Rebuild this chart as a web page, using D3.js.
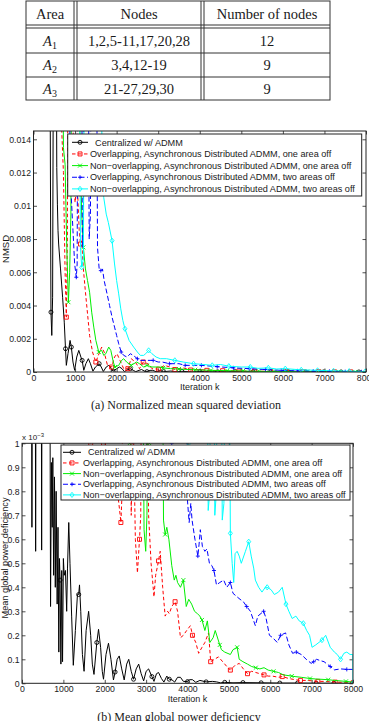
<!DOCTYPE html>
<html>
<head>
<meta charset="utf-8">
<script src="https://cdn.jsdelivr.net/npm/d3@7/dist/d3.min.js"></script>
<style>
  body { margin: 0; background: #fff; }
  svg { display: block; }
  .tbl text { font-family: "Liberation Serif", "Times New Roman", serif; font-size: 14.5px; fill: #1a1a1a; }
  .cap { font-family: "Liberation Serif", "Times New Roman", serif; font-size: 12px; fill: #1a1a1a; }
  .ax text, .lab, .leg text { font-family: "Liberation Sans", Arial, sans-serif; fill: #1a1a1a; }
</style>
</head>
<body>
<svg id="fig" width="369" height="721"></svg>
<script>
// table contents
const tableHead = ["Area", "Nodes", "Number of nodes"];
const tableArea = ["1", "2", "3"]; // subscript of A
const tableNodes = ["1,2,5-11,17,20,28", "3,4,12-19", "21-27,29,30"];
const tableCount = ["12", "9", "9"];

// axes
const iterTicks = [0, 1000, 2000, 3000, 4000, 5000, 6000, 7000, 8000];
const nmsdTicks = [0, 0.002, 0.004, 0.006, 0.008, 0.01, 0.012, 0.014];
const pgdTicks = [0, 0.1, 0.2, 0.3, 0.4, 0.5, 0.6, 0.7, 0.8, 0.9, 1]; // x 10^-3

const legendLabels = [
  "  Centralized w/ ADMM",
  "Overlapping, Asynchronous Distributed ADMM, one area off",
  "Non\u2212overlapping, Asynchronous Distributed ADMM, one area off",
  "Overlapping, Asynchronous Distributed ADMM, two areas off",
  "Non\u2212overlapping, Asynchronous Distributed ADMM, two areas off"
];

// (a) NMSD, [iteration, value]
const nmsdCentral = [[0,0.03],[380,0.03],[420,0.0036],[440,0.0022],[460,0.0045],[490,0.03],[535,0.03],[560,0.0123],[575,0.0101],[590,0.0085],[605,0.0077],[650,0.0062],[700,0.0045],[740,0.003],[770,0.0014],[790,0.0004],[830,0.0011],[880,0.0019],[910,0.0015],[950,0.0006],[990,0.0001],[1040,0.0009],[1090,0.0013],[1140,0.0009],[1170,0.0007],[1210,0.0001],[1260,0.0005],[1320,0.0008],[1370,0.0005],[1430,0.00005],[1490,0.0003],[1580,0.0005],[1630,0.0003],[1680,0.00003],[1750,0.0003],[1810,0.0004],[1870,0.0002],[1915,0.00005],[2000,0.0002],[2070,0.0003],[2130,0.0002],[2190,0.00002],[2260,0.00015],[2330,0.0002],[2400,0.0001],[2460,0.00002],[2540,0.0001],[2600,0.00015],[2670,0.00005],[2730,0.00002],[2800,0.0001],[2870,0.0001],[2950,0.00002],[3050,0.00008],[3130,0.00002],[3300,0.00006],[3450,0.00001],[3570,0.00004],[3800,0.00001],[4000,0.00003],[4430,0.00001],[4850,0.00002],[5280,0.00001],[5700,0.000008],[6130,0.000005],[6550,0.000004],[6980,0.000003],[7400,0.000002],[7830,0.000001],[8000,0]];
const nmsdOvOne = [[0,0.03],[630,0.03],[680,0.0145],[720,0.012],[760,0.006],[790,0.0033],[815,0.008],[840,0.03],[910,0.03],[960,0.0125],[1000,0.0102],[1050,0.0115],[1100,0.0085],[1130,0.0077],[1160,0.0079],[1200,0.0062],[1250,0.0048],[1300,0.0035],[1350,0.0022],[1420,0.0012],[1500,0.0006],[1560,0.001],[1640,0.0015],[1700,0.0012],[1780,0.0004],[1880,0.0003],[1950,0.0009],[2010,0.0011],[2080,0.0007],[2170,0.0002],[2270,0.0002],[2350,0.0008],[2450,0.0006],[2550,0.0002],[2640,0.0006],[2750,0.0005],[2850,0.0002],[3010,0.00017],[3150,0.0004],[3280,0.0003],[3400,0.00015],[3600,0.00025],[3780,0.00012],[4000,0.00015],[4170,0.0001],[4550,0.00008],[4940,0.00006],[5320,0.00005],[5700,0.00004],[6090,0.00003],[6470,0.00002],[6860,0.00002],[7240,0.00001],[7630,0.00001],[8000,0]];
const nmsdNonOne = [[0,0.03],[680,0.03],[720,0.0135],[760,0.0125],[800,0.0075],[840,0.0042],[870,0.006],[900,0.0095],[930,0.03],[1060,0.03],[1120,0.0135],[1160,0.0095],[1200,0.0075],[1250,0.0062],[1300,0.0055],[1350,0.0048],[1400,0.0036],[1450,0.0027],[1500,0.0019],[1570,0.0012],[1640,0.0013],[1690,0.001],[1740,0.0011],[1810,0.0015],[1860,0.0013],[1920,0.0006],[1960,0.0003],[2050,0.0004],[2120,0.0007],[2170,0.0008],[2240,0.0006],[2350,0.0004],[2480,0.0006],[2550,0.0005],[2650,0.0003],[2730,0.0004],[2850,0.0003],[3000,0.0003],[3120,0.00025],[3300,0.0002],[3500,0.00018],[3890,0.00013],[4270,0.0001],[4660,0.00008],[5040,0.00006],[5430,0.00004],[5810,0.00003],[6200,0.00003],[6580,0.00002],[6970,0.00001],[7350,0.00001],[7740,0.000005],[8000,0]];
const nmsdOvTwo = [[0,0.03],[840,0.03],[880,0.0125],[910,0.0105],[950,0.0085],[990,0.0065],[1030,0.0057],[1050,0.0065],[1080,0.03],[1150,0.03],[1175,0.0075],[1200,0.0085],[1230,0.03],[1300,0.03],[1340,0.008],[1370,0.0095],[1400,0.03],[1500,0.03],[1540,0.0075],[1580,0.0062],[1620,0.0061],[1660,0.0062],[1700,0.0055],[1770,0.0047],[1830,0.004],[1890,0.0033],[1950,0.0027],[2000,0.0022],[2050,0.0017],[2110,0.0012],[2170,0.001],[2250,0.0009],[2330,0.0011],[2400,0.001],[2500,0.0008],[2570,0.0007],[2700,0.0007],[2880,0.0007],[3000,0.0006],[3100,0.0006],[3270,0.0005],[3500,0.0005],[3650,0.0004],[4040,0.0004],[4420,0.00032],[4810,0.00025],[5190,0.0002],[5580,0.00015],[5960,0.0001],[6350,0.00007],[6730,0.00005],[7120,0.00004],[7500,0.00002],[7890,0.00001],[8000,0.00001]];
const nmsdNonTwo = [[0,0.03],[1090,0.03],[1130,0.0075],[1160,0.0063],[1200,0.0068],[1240,0.03],[1600,0.03],[1650,0.0125],[1690,0.0105],[1750,0.0095],[1800,0.009],[1890,0.0079],[1950,0.0065],[2000,0.0055],[2050,0.0047],[2100,0.0038],[2150,0.0031],[2200,0.0026],[2300,0.0019],[2410,0.0015],[2500,0.0012],[2570,0.001],[2650,0.001],[2700,0.0011],[2770,0.0013],[2850,0.0011],[2950,0.0009],[3050,0.0008],[3200,0.0008],[3400,0.0007],[3600,0.0006],[3850,0.0005],[4100,0.00045],[4300,0.0004],[4500,0.00045],[4700,0.00035],[5000,0.0003],[5216,0.0003],[5400,0.00022],[5649,0.00025],[5850,0.00018],[6058,0.0002],[6442,0.00013],[6834,0.0001],[7219,0.00007],[7596,0.00005],[7981,0.00003],[8000,0.00003]];

const nmsdCentralMarks = [420, 770, 910, 1170, 1580, 1915, 2330, 2730, 3130, 3570, 4000, 4430, 4850, 5280, 5700, 6130, 6550, 6980, 7400, 7830];
const nmsdOvOneMarks = [790, 1130, 1500, 1880, 2270, 2640, 3010, 3400, 3780, 4170, 4550, 4940, 5320, 5700, 6090, 6470, 6860, 7240, 7630];
const nmsdNonOneMarks = [840, 1200, 1570, 1960, 2350, 2730, 3120, 3500, 3890, 4270, 4660, 5040, 5430, 5810, 6200, 6580, 6970, 7350, 7740];
const nmsdOvTwoMarks = [1030, 1620, 2110, 2500, 2880, 3270, 3650, 4040, 4420, 4810, 5190, 5580, 5960, 6350, 6730, 7120, 7500, 7890];
const nmsdNonTwoMarks = [1160, 1890, 2200, 2770, 3400, 3850, 4300, 4700, 5216, 5649, 6058, 6442, 6834, 7219, 7596, 7981];

// (b) mean global power deficiency (x 10^-3), [iteration, value]
const pgdCentral = [[0,2],[225,2],[240,0.65],[255,2],[315,2],[330,0.55],[345,2],[460,2],[475,0.555],[490,2],[665,2],[690,0.32],[710,0.92],[730,0.65],[745,0.94],[765,0.45],[785,0.86],[805,0.4],[825,0.8],[850,0.33],[870,0.65],[890,0.13],[905,0.52],[920,0.43],[940,0.08],[960,0.47],[980,0.09],[1000,0.52],[1020,0.45],[1050,0.47],[1080,0.3],[1100,0.48],[1130,0.67],[1160,0.5],[1200,0.28],[1240,0.075],[1290,0.22],[1340,0.37],[1370,0.37],[1390,0.41],[1420,0.3],[1460,0.12],[1500,0.05],[1550,0.22],[1610,0.3],[1660,0.2],[1700,0.08],[1740,0.037],[1808,0.17],[1850,0.225],[1900,0.15],[1940,0.05],[1970,0.017],[2030,0.12],[2090,0.167],[2150,0.1],[2210,0.014],[2250,0.047],[2300,0.1],[2350,0.114],[2410,0.06],[2470,0.014],[2530,0.08],[2580,0.1],[2640,0.05],[2696,0.017],[2760,0.06],[2820,0.08],[2880,0.04],[2940,0.01],[3000,0.05],[3060,0.06],[3140,0.028],[3190,0.008],[3250,0.04],[3300,0.045],[3370,0.02],[3430,0.005],[3500,0.03],[3560,0.017],[3620,0.015],[3690,0.005],[3760,0.025],[3830,0.025],[3900,0.008],[4000,0.007],[4050,0.015],[4120,0.015],[4200,0.004],[4300,0.012],[4450,0.006],[4600,0.008],[4700,0.006],[4800,0.002],[4900,0.004],[5100,0.002],[5340,0.003],[5780,0.002],[6230,0.001],[6660,0.001],[7110,0.0005],[7540,0.0003],[8000,0]];
const pgdOvOne = [[0,2],[1600,2],[1660,1.0],[1700,2],[1950,2],[1970,1.0],[2000,2],[2280,2],[2320,0.78],[2360,0.72],[2390,0.67],[2420,0.8],[2450,2],[2600,2],[2640,0.7],[2680,1.2],[2740,0.6],[2790,0.46],[2840,0.6],[2870,0.7],[2900,2],[3000,2],[3060,0.7],[3120,0.5],[3190,0.36],[3230,0.45],[3300,0.51],[3340,0.55],[3400,0.4],[3460,0.28],[3520,0.3],[3560,0.29],[3620,0.32],[3700,0.34],[3760,0.3],[3830,0.19],[3900,0.2],[3980,0.22],[4070,0.24],[4120,0.2],[4200,0.17],[4270,0.125],[4350,0.15],[4420,0.17],[4510,0.21],[4560,0.09],[4650,0.1],[4750,0.11],[4850,0.09],[4950,0.07],[5036,0.055],[5150,0.075],[5250,0.083],[5350,0.06],[5450,0.04],[5550,0.05],[5650,0.045],[5750,0.04],[5850,0.035],[5950,0.03],[6050,0.03],[6200,0.025],[6290,0.028],[6450,0.02],[6600,0.015],[6730,0.012],[6900,0.012],[7150,0.008],[7300,0.008],[7570,0.005],[7800,0.004],[8000,0.002]];
const pgdNonOne = [[0,2],[2550,2],[2600,1.0],[2650,2],[2900,2],[2950,0.64],[2990,0.55],[3020,0.7],[3060,2],[3080,1.0],[3120,2],[3380,2],[3420,0.68],[3460,0.62],[3500,0.65],[3550,0.6],[3620,0.49],[3680,0.43],[3720,0.45],[3760,0.42],[3830,0.4],[3900,0.43],[3970,0.32],[4030,0.35],[4100,0.33],[4170,0.3],[4240,0.29],[4300,0.28],[4350,0.264],[4420,0.22],[4480,0.26],[4540,0.17],[4620,0.19],[4670,0.22],[4780,0.16],[4820,0.14],[4900,0.13],[5036,0.12],[5100,0.14],[5200,0.15],[5250,0.1],[5340,0.09],[5450,0.08],[5550,0.07],[5650,0.065],[5750,0.06],[5850,0.065],[5950,0.055],[6080,0.05],[6200,0.045],[6320,0.035],[6520,0.03],[6600,0.028],[6750,0.025],[6960,0.02],[7100,0.018],[7400,0.015],[7550,0.012],[7830,0.008],[8000,0.005]];
const pgdOvTwo = [[0,2],[3600,2],[3620,1.0],[3640,2],[3940,2],[4000,0.76],[4040,0.67],[4080,0.75],[4110,0.68],[4180,0.6],[4250,0.53],[4280,0.58],[4310,0.64],[4360,0.57],[4420,0.55],[4470,0.56],[4530,0.5],[4590,0.49],[4640,0.47],[4700,0.41],[4780,0.42],[4875,0.43],[4950,0.4],[5036,0.42],[5100,0.375],[5200,0.36],[5270,0.35],[5350,0.34],[5430,0.32],[5520,0.3],[5640,0.24],[5700,0.28],[5840,0.3],[5900,0.27],[5980,0.2],[6060,0.19],[6170,0.17],[6250,0.2],[6370,0.21],[6450,0.16],[6540,0.125],[6630,0.13],[6750,0.12],[6870,0.1],[6990,0.083],[7050,0.09],[7120,0.1],[7200,0.095],[7300,0.09],[7450,0.07],[7550,0.056],[7700,0.06],[7850,0.058],[8000,0.058]];
const pgdNonTwo = [[0,2],[4000,2],[4030,1.0],[4060,2],[4450,2],[4500,0.72],[4540,0.8],[4570,2],[4620,2],[4660,0.7],[4700,0.8],[4730,2],[4800,2],[4840,0.68],[4880,0.75],[4930,2],[4990,2],[5036,0.625],[5080,0.5],[5117,0.42],[5150,0.54],[5200,0.55],[5250,0.53],[5300,0.5],[5400,0.55],[5480,0.59],[5540,0.53],[5600,0.48],[5640,0.43],[5720,0.4],[5800,0.38],[5880,0.4],[5925,0.4],[6020,0.39],[6100,0.37],[6200,0.38],[6290,0.4],[6380,0.33],[6450,0.3],[6530,0.27],[6620,0.28],[6700,0.26],[6800,0.25],[6880,0.22],[6950,0.2],[7010,0.15],[7100,0.16],[7250,0.18],[7340,0.2],[7450,0.15],[7550,0.13],[7620,0.12],[7700,0.1],[7780,0.125],[7850,0.13],[7930,0.12],[7995,0.12],[8000,0]];

const pgdCentralMarks = [920, 1370, 1808, 2250, 2696, 3140, 3560, 4000, 4450, 4900, 5340, 5780, 6230, 6660, 7110, 7540, 8000];
const pgdOvOneMarks = [1660, 1970, 2390, 2840, 3300, 3700, 4120, 4560, 5036, 5450, 5850, 6290, 6730, 7150, 7570, 8000];
const pgdNonOneMarks = [2600, 3080, 3460, 3900, 4350, 4780, 5200, 5650, 6080, 6520, 6960, 7400, 7830];
const pgdOvTwoMarks = [3620, 4250, 4640, 5036, 5430, 5840, 6250, 6630, 7050, 7450, 7850];
const pgdNonTwoMarks = [4030, 5036, 5480, 5925, 6380, 6800, 7250, 7700, 8000];

const styles = [
  { color: "#000000", dash: null, mark: "circle" },
  { color: "#ff0000", dash: "3.5,2.5", mark: "square" },
  { color: "#00ee00", dash: null, mark: "x" },
  { color: "#0000ff", dash: "5,2.5", mark: "plus" },
  { color: "#00ffff", dash: null, mark: "diamond" }
];

const svg = d3.select("#fig");

// ---------- table ----------
const tbl = svg.append("g").attr("class", "tbl");
const tL = 26, tR = 330, tT = 1, tB = 100;
const vLines = [74, 77, 201, 204];
const hLines = [25, 28, 53, 77];
tbl.append("rect").attr("x", tL).attr("y", tT).attr("width", tR - tL).attr("height", tB - tT)
  .attr("fill", "none").attr("stroke", "#333").attr("stroke-width", 1);
tbl.selectAll(".v").data(vLines).join("line")
  .attr("x1", d => d).attr("x2", d => d).attr("y1", tT).attr("y2", tB)
  .attr("stroke", "#333").attr("stroke-width", 1);
tbl.selectAll(".h").data(hLines).join("line")
  .attr("x1", tL).attr("x2", tR).attr("y1", d => d).attr("y2", d => d)
  .attr("stroke", "#333").attr("stroke-width", 1);
const colC = [50, 139, 267];
const rowBase = [46, 70, 93.5];
tbl.selectAll(".hd").data(tableHead).join("text")
  .attr("x", (d, i) => colC[i]).attr("y", 18.5).attr("text-anchor", "middle").text(d => d);
tableArea.forEach((s, i) => {
  const t = tbl.append("text").attr("x", colC[0]).attr("y", rowBase[i]).attr("text-anchor", "middle");
  t.append("tspan").attr("font-style", "italic").text("A");
  t.append("tspan").attr("font-size", "10px").attr("dy", 3).text(s);
});
tbl.selectAll(".nd").data(tableNodes).join("text")
  .attr("x", colC[1]).attr("y", (d, i) => rowBase[i]).attr("text-anchor", "middle").text(d => d);
tbl.selectAll(".ct").data(tableCount).join("text")
  .attr("x", colC[2]).attr("y", (d, i) => rowBase[i]).attr("text-anchor", "middle").text(d => d);

// ---------- charts ----------
function markPath(type, s) {
  if (type === "x") return `M${-s},${-s}L${s},${s}M${-s},${s}L${s},${-s}`;
  if (type === "plus") return `M${-s},0H${s}M0,${-s}V${s}`;
  if (type === "square") return `M${-s},${-s}H${s}V${s}H${-s}Z`;
  if (type === "diamond") return `M0,${-s * 1.3}L${s},0L0,${s * 1.3}L${-s},0Z`;
  return d3.symbol(d3.symbolCircle, Math.PI * s * s)();
}

function drawChart(o) {
  const x = d3.scaleLinear().domain([0, 8000]).range([o.left, o.right]);
  const y = d3.scaleLinear().domain([0, o.yMax]).range([o.bottom, o.top]);
  const g = svg.append("g");

  g.append("clipPath").attr("id", o.id).append("rect")
    .attr("x", o.left).attr("y", o.top).attr("width", o.right - o.left).attr("height", o.bottom - o.top);

  const fmtY = d3.format("~g");
  const axes = [
    [d3.axisBottom(x).tickValues(iterTicks).tickFormat(d3.format("d")), `translate(0,${o.bottom})`],
    [d3.axisTop(x).tickValues(iterTicks).tickFormat(""), `translate(0,${o.top})`],
    [d3.axisLeft(y).tickValues(o.yTicks).tickFormat(fmtY), `translate(${o.left},0)`],
    [d3.axisRight(y).tickValues(o.yTicks).tickFormat(""), `translate(${o.right},0)`]
  ];
  axes.forEach(([ax, tr], i) => {
    const a = g.append("g").attr("class", "ax").attr("transform", tr)
      .call(ax.tickSizeInner(-3.5).tickSizeOuter(0).tickPadding(i === 0 ? 3 : 2.5));
    a.select(".domain").remove();
    a.selectAll("line").attr("stroke", "#222").attr("stroke-width", 0.8);
    a.selectAll("text").attr("font-size", 8.7);
  });

  const line = d3.line().x(d => x(d[0])).y(d => y(d[1]));
  const plot = g.append("g").attr("clip-path", `url(#${o.id})`);
  o.series.forEach((s, i) => {
    const st = styles[i];
    plot.append("path").datum(s.data).attr("d", line)
      .attr("fill", "none").attr("stroke", st.color).attr("stroke-width", 1)
      .attr("stroke-dasharray", st.dash);
    const pts = s.marks.map(m => d3.least(s.data, d => Math.abs(d[0] - m)));
    plot.selectAll(null).data(pts).join("path")
      .attr("transform", d => `translate(${x(d[0])},${y(d[1])})`)
      .attr("d", markPath(st.mark, 2))
      .attr("fill", "none").attr("stroke", st.color).attr("stroke-width", 0.9);
  });

  g.append("rect").attr("x", o.left).attr("y", o.top)
    .attr("width", o.right - o.left).attr("height", o.bottom - o.top)
    .attr("fill", "none").attr("stroke", "#222").attr("stroke-width", 1);

  // axis labels
  g.append("text").attr("class", "lab").attr("font-size", 9).attr("text-anchor", "middle")
    .attr("x", (o.left + o.right) / 2).attr("y", o.bottom + 18.3).text("Iteration k");
  g.append("text").attr("class", "lab").attr("font-size", o.yLabelSize).attr("text-anchor", "middle")
    .attr("transform", `translate(${o.yLabelX},${o.yLabelY}) rotate(-90)`).text(o.yLabel);
  g.append("text").attr("class", "cap").attr("text-anchor", "middle")
    .attr("x", o.capX).attr("y", o.capY).text(o.caption);

  // legend
  const L = o.legend;
  const lg = g.append("g").attr("class", "leg");
  lg.append("rect").attr("x", L.x).attr("y", L.y).attr("width", L.w).attr("height", L.h)
    .attr("fill", "#fff").attr("stroke", "#222").attr("stroke-width", 1);
  legendLabels.forEach((lab, i) => {
    const st = styles[i];
    const cy = L.y + L.first + i * L.step;
    lg.append("line").attr("x1", L.x + L.s1).attr("x2", L.x + L.s2).attr("y1", cy).attr("y2", cy)
      .attr("stroke", st.color).attr("stroke-width", 1).attr("stroke-dasharray", st.dash);
    lg.append("path").attr("transform", `translate(${L.x + (L.s1 + L.s2) / 2},${cy})`)
      .attr("d", markPath(st.mark, 2)).attr("fill", "none").attr("stroke", st.color).attr("stroke-width", 0.9);
    lg.append("text").attr("x", L.x + L.tx).attr("y", cy + L.fs * 0.35)
      .attr("font-size", L.fs).style("white-space", "pre").text(lab);
  });
}

drawChart({
  id: "clipA", left: 33.5, right: 366, top: 131, bottom: 372, yMax: 0.0145, yTicks: nmsdTicks,
  series: [
    { data: nmsdCentral, marks: nmsdCentralMarks },
    { data: nmsdOvOne, marks: nmsdOvOneMarks },
    { data: nmsdNonOne, marks: nmsdNonOneMarks },
    { data: nmsdOvTwo, marks: nmsdOvTwoMarks },
    { data: nmsdNonTwo, marks: nmsdNonTwoMarks }
  ],
  yLabel: "NMSD", yLabelX: 8.5, yLabelY: 249, yLabelSize: 9.5,
  caption: "(a) Normalized mean squared deviation", capX: 186, capY: 409,
  legend: { x: 67.7, y: 134, w: 294, h: 62, first: 8.3, step: 11.65, s1: 4.3, s2: 20.3, tx: 22.3, fs: 9.15 }
});

drawChart({
  id: "clipB", left: 22, right: 353, top: 443.3, bottom: 683.3, yMax: 1, yTicks: pgdTicks,
  series: [
    { data: pgdCentral, marks: pgdCentralMarks },
    { data: pgdOvOne, marks: pgdOvOneMarks },
    { data: pgdNonOne, marks: pgdNonOneMarks },
    { data: pgdOvTwo, marks: pgdOvTwoMarks },
    { data: pgdNonTwo, marks: pgdNonTwoMarks }
  ],
  yLabel: "Mean global power deficiency", yLabelX: 8, yLabelY: 558, yLabelSize: 9.2,
  caption: "(b) Mean global power deficiency", capX: 179, capY: 721,
  legend: { x: 61, y: 445, w: 289, h: 55, first: 7.3, step: 10.65, s1: 2, s2: 20, tx: 22, fs: 9.05 }
});

// multiplier above the second y axis
const mult = svg.append("text").attr("class", "lab").attr("x", 22).attr("y", 440).attr("font-size", 8);
mult.append("tspan").text("x 10");
mult.append("tspan").attr("dy", -3.5).attr("font-size", 6).text("\u22123");
</script>
</body>
</html>
